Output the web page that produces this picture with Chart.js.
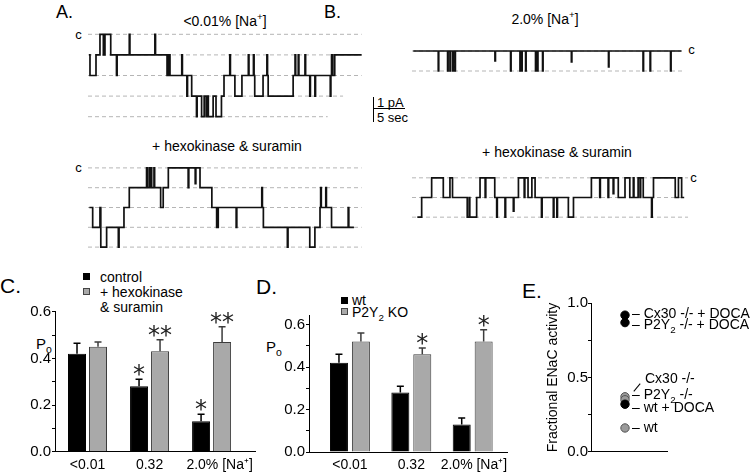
<!DOCTYPE html>
<html>
<head>
<meta charset="utf-8">
<script src="https://cdn.jsdelivr.net/npm/chart.js@4.4.1/dist/chart.umd.min.js"></script>
<style>
  html, body { margin: 0; padding: 0; background: #fff; }
  #fig { position: relative; width: 750px; height: 476px; overflow: hidden; font-family: 'Liberation Sans', Arial, sans-serif; color: #000; }
  #fig canvas { position: absolute; }
  .t { position: absolute; white-space: nowrap; line-height: 1; transform: translateY(-50%); }
  .tc { position: absolute; white-space: nowrap; line-height: 1; transform: translate(-50%, -50%); }
  .sq { position: absolute; width: 7px; height: 7px; box-sizing: border-box; }
  .ln { position: absolute; background: #000; }
  sub, sup { font-size: 70%; line-height: 0; }
</style>
</head>
<body>
<div id="fig">
  <!-- panel letters / titles -->
  <div class="t" style="left:56px;top:11.5px;font-size:18px">A.</div>
  <div class="t" style="left:324px;top:11.5px;font-size:18px">B.</div>
  <div class="tc" style="left:225px;top:21px;font-size:14px">&lt;0.01% [Na<sup>+</sup>]</div>
  <div class="tc" style="left:545px;top:19px;font-size:14px">2.0% [Na<sup>+</sup>]</div>
  <div class="tc" style="left:227px;top:146px;font-size:14px">+ hexokinase &amp; suramin</div>
  <div class="tc" style="left:557px;top:152px;font-size:14px">+ hexokinase &amp; suramin</div>
  <div class="tc" style="left:78.5px;top:33.5px;font-size:13px">c</div>
  <div class="tc" style="left:78.5px;top:167px;font-size:13px">c</div>
  <div class="tc" style="left:691.5px;top:49px;font-size:13px">c</div>
  <div class="tc" style="left:693.5px;top:177px;font-size:13px">c</div>

  <!-- scale bar -->
  <div class="ln" style="left:373px;top:96.5px;width:1px;height:25px"></div>
  <div class="ln" style="left:373px;top:107.5px;width:32px;height:1px"></div>
  <div class="t" style="left:377px;top:101.5px;font-size:13px">1 pA</div>
  <div class="t" style="left:377px;top:117px;font-size:13px">5 sec</div>

  <canvas id="aTop" width="274" height="103" style="left:88px;top:24px"></canvas>
  <canvas id="aBot" width="274" height="99" style="left:88px;top:158px"></canvas>
  <canvas id="bTop" width="272" height="40" style="left:412px;top:41px"></canvas>
  <canvas id="bBot" width="277" height="59" style="left:412px;top:168px"></canvas>

  <!-- C -->
  <div class="t" style="left:0px;top:284.5px;font-size:21px">C.</div>
  <div class="sq" style="left:83px;top:273px;background:#000"></div>
  <div class="t" style="left:100px;top:276.5px;font-size:14px">control</div>
  <div class="sq" style="left:83px;top:288px;background:#a9a9a9;border:1px solid #444"></div>
  <div class="t" style="left:100px;top:291.5px;font-size:14px">+ hexokinase</div>
  <div class="t" style="left:100px;top:306.5px;font-size:14px">&amp; suramin</div>
  <div class="t" style="left:36px;top:343px;font-size:15px">P<sub>o</sub></div>
  <canvas id="chartC" width="262" height="176" style="left:0px;top:300px"></canvas>

  <!-- D -->
  <div class="t" style="left:256px;top:285.5px;font-size:21px">D.</div>
  <div class="sq" style="left:341px;top:296.5px;background:#000"></div>
  <div class="t" style="left:352px;top:300px;font-size:14px">wt</div>
  <div class="sq" style="left:341px;top:308px;background:#a9a9a9;border:1px solid #444"></div>
  <div class="t" style="left:352px;top:312px;font-size:14px">P2Y<sub>2</sub> KO</div>
  <div class="t" style="left:266px;top:346px;font-size:15px">P<sub>o</sub></div>
  <canvas id="chartD" width="253" height="176" style="left:260px;top:300px"></canvas>

  <!-- E -->
  <div class="t" style="left:522px;top:289.5px;font-size:21px">E.</div>
  <canvas id="chartE" width="140" height="186" style="left:540px;top:290px"></canvas>
  <div class="t" style="left:632px;top:312.5px;font-size:14px">&ndash; Cx30 -/- + DOCA</div>
  <div class="t" style="left:632px;top:324px;font-size:14px">&ndash; P2Y<sub>2</sub> -/- + DOCA</div>
  <div class="t" style="left:645px;top:378px;font-size:14px">Cx30 -/-</div>
  <div class="ln" style="left:632px;top:387px;width:10px;height:1px;transform:rotate(-50deg)"></div>
  <div class="t" style="left:632px;top:394px;font-size:14px">&ndash; P2Y<sub>2</sub> -/-</div>
  <div class="t" style="left:632px;top:406.5px;font-size:14px">&ndash; wt + DOCA</div>
  <div class="t" style="left:632px;top:427px;font-size:14px">&ndash; wt</div>
</div>

<script>
// ---- single channel traces: [time (s), number of open channels] ----
const aTopSteps = [
  [0.1, 1], [0.26, 2], [1.2, 1], [1.82, 0], [2.35, 1], [2.6, 0], [3.5, 1], [4.4, 2], [4.5, 1],
  [6.4, 0], [6.5, 1], [10.4, 0], [10.5, 1], [12.3, 2], [12.5, 1], [12.76, 2], [14.6, 1], [14.7, 2],
  [15.4, 3], [15.5, 2], [16.15, 3], [16.9, 4], [17.0, 3], [17.7, 4], [18.1, 3], [18.4, 4], [18.5, 3],
  [18.75, 4], [19.5, 3], [19.95, 4], [20.8, 3], [21.2, 2], [22.1, 1], [22.2, 2], [22.9, 3], [24.0, 2],
  [25.0, 1], [25.1, 2], [25.8, 1], [25.9, 2], [26.0, 3], [27.3, 2], [27.9, 1], [28.0, 2], [28.1, 3],
  [32.0, 2], [32.3, 1], [32.4, 2], [32.8, 1], [32.9, 2], [33.85, 1], [33.95, 2], [34.6, 3], [34.7, 2],
  [35.4, 3], [35.5, 2], [37.8, 3], [37.9, 2], [38.0, 1], [38.2, 2], [38.5, 1], [42.7, 1]
];
const aBotSteps = [
  [0.16, 2], [0.68, 3], [1.82, 2], [1.95, 4], [2.86, 3], [4.69, 4], [4.8, 3], [5.57, 2], [6.4, 1],
  [9.1, 0], [9.2, 1], [9.5, 0], [9.6, 1], [9.8, 0], [9.9, 1], [10.26, 0], [10.36, 1], [11.3, 2], [11.7, 1],
  [12.5, 0], [15.6, 1], [15.7, 0], [16.7, 0.8], [16.8, 0], [17.45, 1], [19.3, 2], [20.05, 3], [20.3, 2],
  [23.1, 3], [23.2, 2], [27.1, 1], [27.2, 2], [27.35, 3], [31.1, 4], [31.2, 3], [34.6, 4], [35.4, 3],
  [36.2, 2], [36.3, 1], [36.4, 2], [37.1, 1], [37.2, 2], [38.0, 3], [40.6, 2], [40.7, 3], [41.5, 3]
];
// B top is closed almost all the time: brief openings [time (s), depth]
const bTopSpikes = [
  [3.9, 1], [5.36, 1], [5.73, 1], [6.15, 1], [6.5, 1], [12.76, 0.5], [15.2, 1], [16.67, 1], [16.93, 1],
  [17.55, 1], [19.1, 1], [19.4, 1], [20.2, 1], [24.7, 0.55], [30.5, 0.8], [35.9, 1], [37.0, 1], [40.2, 1]
];
const bTopEnd = 41.9;
const bBotSteps = [
  [0, 2], [0.68, 1], [2.24, 0], [4.06, 1], [5.1, 0], [5.5, 1], [7.8, 2], [8.1, 1], [8.2, 2], [9.27, 1],
  [9.8, 0], [10.6, 1], [10.7, 0], [12.1, 1], [12.4, 2], [12.5, 1], [13.7, 2], [13.8, 1], [15.0, 1.7],
  [15.1, 1], [15.8, 0], [16.7, 1], [16.8, 0], [17.3, 1], [17.9, 0], [18.4, 1], [19.4, 2], [19.5, 1],
  [21.25, 2], [21.35, 1], [21.8, 2], [21.9, 1], [23.6, 2], [24.4, 1], [27.2, 0], [28.5, 1], [28.6, 0],
  [29.8, 1], [29.9, 0], [30.6, 0.8], [30.7, 0], [31.4, 1], [32.45, 0], [33.2, 1], [33.75, 0], [33.85, 1],
  [34.5, 0], [34.8, 1], [34.9, 0], [35.3, 1], [36.6, 2], [36.7, 1], [36.9, 0], [40.3, 1], [40.8, 0],
  [41.3, 1], [41.7, 1]
];
// where the dashed guide line of each current level stops (s)
const aTopGuideEnds = [42.7, 42.7, 42.7, 39.8, 37.4];
const aBotGuideEnds = [42.7, 42.7, 42.7, 42.7, 42.7];
const bTopGuideEnds = [42.2, 42.2];
const bBotGuideEnds = [42.3, 41.6, 42.3];

// ---- bar charts ----
const naCategories = ['<0.01', '0.32', '2.0% [Na\u207A]'];
const poControl = [0.42, 0.28, 0.13];
const poControlErr = [0.045, 0.03, 0.03];
const poHexo = [0.45, 0.43, 0.47];
const poHexoErr = [0.02, 0.05, 0.065];
const starsControl = ['', '*', '*'];
const starsHexo = ['', '**', '**'];

const poWt = [0.42, 0.28, 0.13];
const poWtErr = [0.04, 0.03, 0.03];
const poKo = [0.52, 0.46, 0.52];
const poKoErr = [0.04, 0.03, 0.055];
const starsWt = ['', '', ''];
const starsKo = ['', '*', '*'];

// ---- panel E ----
const enacGroups = ['Cx30 -/- + DOCA', 'P2Y2 -/- + DOCA', 'Cx30 -/-', 'P2Y2 -/-', 'wt + DOCA', 'wt'];
const enacActivity = [0.92, 0.87, 0.37, 0.35, 0.32, 0.16];
const enacDoca = [true, true, false, false, true, false];

Chart.defaults.font.family = "'Liberation Sans', Arial, sans-serif";
Chart.defaults.color = '#000';

function traceChart(id, steps, guideEnds, xMin, xMax) {
  const guides = guideEnds.map((end, n) => ({
    data: [{ x: xMin, y: n }, { x: end, y: n }],
    borderColor: '#b5b5b5', borderWidth: 1, borderDash: [4, 3], pointRadius: 0
  }));
  return new Chart(document.getElementById(id), {
    type: 'line',
    data: {
      datasets: [{
        data: steps.map(s => ({ x: s[0], y: s[1] })),
        stepped: 'before', borderColor: '#111', borderWidth: 1.7, pointRadius: 0
      }].concat(guides)
    },
    options: {
      responsive: false, animation: false, events: [],
      layout: { padding: 0 },
      plugins: { legend: { display: false }, tooltip: { enabled: false } },
      scales: {
        x: { type: 'linear', display: false, min: xMin, max: xMax },
        y: { type: 'linear', display: false, reverse: true, min: -0.5, max: guideEnds.length - 0.5 }
      }
    }
  });
}

const bTopSteps = [[0, 0]];
bTopSpikes.forEach(s => { bTopSteps.push([s[0], s[1]], [s[0] + 0.08, 0]); });
bTopSteps.push([bTopEnd, 0]);

traceChart('aTop', aTopSteps, aTopGuideEnds, -0.05, 42.76);
traceChart('aBot', aBotSteps, aBotGuideEnds, -0.05, 42.76);
traceChart('bTop', bTopSteps, bTopGuideEnds, -0.2, 42.3);
traceChart('bBot', bBotSteps, bBotGuideEnds, -0.83, 42.45);

// error bars (upper only) and significance stars
const errorBars = {
  id: 'errorBars',
  afterDatasetsDraw(chart) {
    const { ctx } = chart;
    const yScale = chart.scales.y;
    chart.data.datasets.forEach((ds, i) => {
      chart.getDatasetMeta(i).data.forEach((bar, j) => {
        const top = yScale.getPixelForValue(ds.data[j].y + ds.errors[j]);
        ctx.save();
        ctx.strokeStyle = ds.errorColor;
        ctx.lineWidth = 1.5;
        ctx.beginPath();
        ctx.moveTo(bar.x, bar.y);
        ctx.lineTo(bar.x, top);
        ctx.moveTo(bar.x - 3.5, top);
        ctx.lineTo(bar.x + 3.5, top);
        ctx.stroke();
        if (ds.stars[j]) {
          ctx.fillStyle = '#222';
          ctx.font = "24px 'DejaVu Sans'";
          ctx.textAlign = 'center';
          ctx.textBaseline = 'alphabetic';
          ctx.fillText(ds.stars[j], bar.x, top + 3);
        }
        ctx.restore();
      });
    });
  }
};

function toXY(arr) { return arr.map((v, i) => ({ x: i + 1, y: v })); }

function barChart(id, sets, cfg) {
  return new Chart(document.getElementById(id), {
    type: 'bar',
    data: {
      datasets: sets.map(s => ({
        data: toXY(s.values), errors: s.errors, stars: s.stars,
        backgroundColor: s.fill, borderColor: s.edge, borderWidth: 1, errorColor: s.edge
      }))
    },
    options: {
      responsive: false, animation: false, events: [],
      layout: { padding: { top: cfg.padTop, right: cfg.padRight, left: 0, bottom: 0 } },
      datasets: { bar: { barPercentage: cfg.barPct, categoryPercentage: cfg.catPct } },
      plugins: { legend: { display: false }, tooltip: { enabled: false } },
      scales: {
        x: {
          type: 'linear', min: cfg.xMin, max: cfg.xMax, offset: false,
          // label anchors sit under each group, nudged where the figure placed them
          afterBuildTicks: s => { s.ticks = naCategories.map((c, i) => ({ value: i + 1 + cfg.labelNudge[i] })); },
          ticks: { callback: v => naCategories[Math.round(v) - 1] || '', font: { size: 14 }, padding: 5, maxRotation: 0, autoSkip: false },
          grid: { drawOnChartArea: false, drawTicks: false, offset: false },
          border: { color: '#000', width: 1 },
          afterFit: s => { s.height = cfg.xHeight; }
        },
        y: {
          min: 0, max: cfg.yMax,
          ticks: {
            stepSize: 0.1, includeBounds: false, autoSkip: false, padding: 1, font: { size: 15 },
            callback: v => (Math.round(v * 10) % 2 === 0 ? v.toFixed(1) : '')
          },
          grid: { drawOnChartArea: false, tickLength: 3, tickColor: '#000' },
          border: { color: '#000', width: 1 },
          afterFit: s => { s.width = cfg.yWidth; }
        }
      }
    },
    plugins: [errorBars]
  });
}

barChart('chartC', [
  { values: poControl, errors: poControlErr, stars: starsControl, fill: '#000', edge: '#000' },
  { values: poHexo, errors: poHexoErr, stars: starsHexo, fill: '#a9a9a9', edge: '#3c3c3c' }
], { padTop: 11.7, padRight: 7, xMin: 0.476, xMax: 3.7, barPct: 0.857, catPct: 0.677, xHeight: 24.3, yWidth: 55, yMax: 0.6, labelNudge: [0, 0, 0.13] });

barChart('chartD', [
  { values: poWt, errors: poWtErr, stars: starsWt, fill: '#000', edge: '#000' },
  { values: poKo, errors: poKoErr, stars: starsKo, fill: '#a9a9a9', edge: '#3c3c3c' }
], { padTop: 15, padRight: 5, xMin: 0.333, xMax: 3.57, barPct: 0.82, catPct: 0.715, xHeight: 24, yWidth: 49, yMax: 0.645, labelNudge: [0, 0, 0.02] });

// panel E: fractional ENaC activity
new Chart(document.getElementById('chartE'), {
  type: 'scatter',
  data: {
    labels: enacGroups,
    datasets: [{
      data: enacActivity.map(v => ({ x: 1, y: v })),
      pointRadius: 4.2,
      backgroundColor: enacDoca.map(d => (d ? '#000' : '#9a9a9a')),
      borderColor: enacDoca.map(d => (d ? '#000' : '#555')),
      borderWidth: 1
    }]
  },
  options: {
    responsive: false, animation: false, events: [],
    layout: { padding: { top: 13.3, right: 13, left: 0, bottom: 0 } },
    plugins: { legend: { display: false }, tooltip: { enabled: false } },
    scales: {
      x: {
        type: 'linear', min: 0, max: 2.235,
        ticks: { display: false },
        grid: { drawOnChartArea: false, drawTicks: false },
        border: { color: '#000', width: 1 },
        afterFit: s => { s.height = 24.3; }
      },
      y: {
        min: 0, max: 1,
        title: { display: true, text: 'Fractional ENaC activity', font: { size: 14 }, padding: { top: 4.5, bottom: 0 } },
        ticks: {
          stepSize: 0.25, autoSkip: false, padding: 0, font: { size: 15 },
          callback: v => (Math.round(v * 100) % 50 === 0 ? v.toFixed(1) : '')
        },
        grid: { drawOnChartArea: false, tickLength: 3, tickColor: '#000' },
        border: { color: '#000', width: 1 },
        afterFit: s => { s.width = 51; }
      }
    }
  }
});
</script>
</body>
</html>
